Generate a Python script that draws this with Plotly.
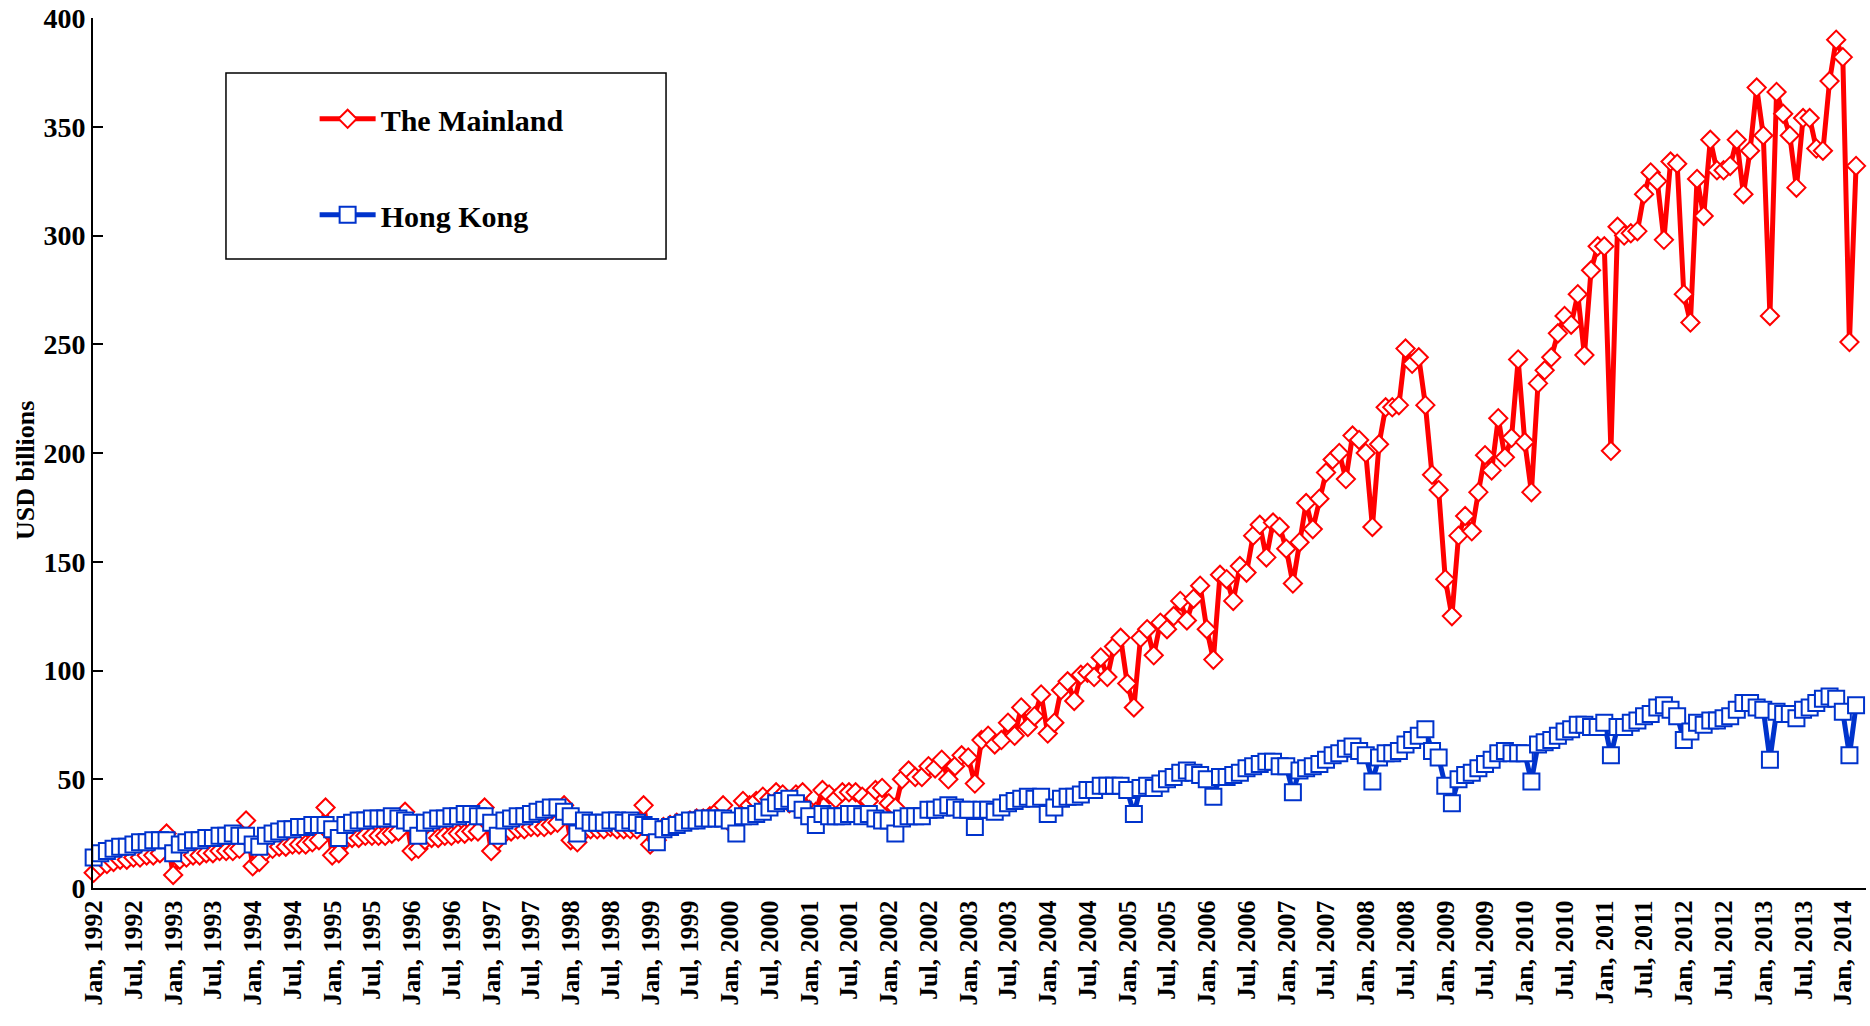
import plotly.graph_objects as go

MONTHS = ["Jan", "Feb", "Mar", "Apr", "May", "Jun", "Jul", "Aug", "Sep", "Oct", "Nov", "Dec"]

# The Mainland, monthly, USD billions
mainland_1992 = [7, 10, 11, 12, 13, 13, 14, 14, 15, 15, 16, 25]
mainland_1993 = [6, 13, 14, 15, 15, 16, 16, 17, 17, 17, 18, 31]
mainland_1994 = [10, 12, 17, 18, 19, 19, 20, 20, 20, 21, 22, 37]
mainland_1995 = [15, 16, 22, 23, 23, 24, 24, 24, 24, 25, 26, 35]
mainland_1996 = [17, 18, 22, 23, 23, 24, 24, 25, 25, 26, 26, 37]
mainland_1997 = [17, 22, 25, 26, 27, 27, 28, 28, 28, 29, 30, 38]
mainland_1998 = [22, 21, 26, 27, 27, 27, 28, 27, 27, 27, 27, 38]
mainland_1999 = [20, 22, 28, 29, 30, 30, 31, 32, 32, 33, 35, 38]
mainland_2000 = [30, 31, 40, 38, 40, 42, 41, 44, 43, 39, 43, 44]
mainland_2001 = [36, 35, 45, 43, 41, 44, 44, 44, 42, 40, 45, 46]
mainland_2002 = [39, 37, 50, 54, 51, 51, 56, 55, 59, 50, 56, 61]
mainland_2003 = [60, 48, 68, 70, 66, 68, 76, 70, 83, 74, 79, 89]
mainland_2004 = [71, 76, 91, 95, 86, 98, 99, 97, 106, 97, 111, 115]
mainland_2005 = [94, 83, 115, 119, 107, 122, 119, 125, 132, 123, 133, 139]
mainland_2006 = [119, 105, 144, 142, 132, 148, 145, 162, 167, 152, 168, 166]
mainland_2007 = [156, 140, 159, 177, 165, 179, 191, 197, 200, 188, 208, 206]
mainland_2008 = [200, 166, 204, 221, 221, 222, 248, 241, 244, 222, 190, 183]
mainland_2009 = [142, 125, 162, 171, 164, 182, 199, 192, 216, 198, 207, 243]
mainland_2010 = [205, 182, 232, 238, 244, 255, 263, 259, 273, 245, 284, 295]
mainland_2011 = [295, 201, 304, 300, 301, 302, 319, 329, 325, 298, 334, 333]
mainland_2012 = [273, 260, 326, 309, 344, 330, 330, 332, 344, 319, 339, 368]
mainland_2013 = [346, 263, 366, 356, 346, 322, 354, 354, 340, 339, 371, 390]
mainland_2014 = [382, 251, 332]

# Hong Kong, monthly, USD billions
hk_1992 = [14, 16, 17, 18, 19, 19, 20, 21, 21, 22, 22, 22]
hk_1993 = [16, 20, 21, 22, 22, 23, 23, 24, 24, 25, 24, 24]
hk_1994 = [20, 19, 24, 25, 26, 27, 27, 28, 28, 29, 29, 29]
hk_1995 = [27, 23, 29, 30, 31, 31, 32, 32, 32, 33, 32, 31]
hk_1996 = [30, 24, 30, 31, 32, 32, 33, 33, 34, 34, 33, 33]
hk_1997 = [30, 24, 31, 32, 33, 33, 34, 35, 36, 37, 37, 35]
hk_1998 = [33, 25, 31, 30, 30, 30, 31, 31, 30, 31, 30, 29]
hk_1999 = [28, 21, 27, 28, 29, 30, 31, 31, 32, 32, 32, 32]
hk_2000 = [31, 25, 33, 33, 34, 35, 37, 39, 40, 41, 39, 36]
hk_2001 = [33, 29, 34, 33, 33, 33, 34, 34, 33, 34, 32, 31]
hk_2002 = [31, 25, 32, 33, 33, 33, 36, 36, 37, 38, 37, 36]
hk_2003 = [36, 28, 36, 36, 35, 37, 39, 40, 41, 42, 41, 42]
hk_2004 = [34, 37, 41, 42, 42, 43, 45, 45, 47, 47, 47, 47]
hk_2005 = [45, 34, 46, 47, 46, 48, 50, 51, 53, 54, 53, 52]
hk_2006 = [50, 42, 51, 51, 52, 53, 55, 56, 57, 58, 58, 56]
hk_2007 = [56, 44, 54, 55, 56, 57, 59, 61, 62, 64, 65, 63]
hk_2008 = [61, 49, 60, 62, 62, 63, 66, 68, 70, 73, 63, 60]
hk_2009 = [47, 39, 50, 52, 53, 55, 57, 59, 62, 63, 62, 62]
hk_2010 = [62, 49, 66, 67, 68, 70, 72, 73, 75, 75, 74, 74]
hk_2011 = [76, 61, 74, 74, 76, 77, 79, 80, 83, 84, 82, 79]
hk_2012 = [68, 72, 76, 75, 77, 77, 78, 79, 82, 85, 85, 83]
hk_2013 = [82, 59, 81, 80, 80, 78, 82, 83, 85, 87, 88, 87]
hk_2014 = [81, 61, 84]

mainland = (mainland_1992 + mainland_1993 + mainland_1994 + mainland_1995 + mainland_1996
            + mainland_1997 + mainland_1998 + mainland_1999 + mainland_2000 + mainland_2001
            + mainland_2002 + mainland_2003 + mainland_2004 + mainland_2005 + mainland_2006
            + mainland_2007 + mainland_2008 + mainland_2009 + mainland_2010 + mainland_2011
            + mainland_2012 + mainland_2013 + mainland_2014)
hongkong = (hk_1992 + hk_1993 + hk_1994 + hk_1995 + hk_1996 + hk_1997 + hk_1998 + hk_1999
            + hk_2000 + hk_2001 + hk_2002 + hk_2003 + hk_2004 + hk_2005 + hk_2006 + hk_2007
            + hk_2008 + hk_2009 + hk_2010 + hk_2011 + hk_2012 + hk_2013 + hk_2014)

n = len(mainland)
labels = [f"{MONTHS[i % 12]}, {1992 + i // 12}" for i in range(n)]
tick_labels = labels[::6]

RED = "#FF0000"
BLUE = "#0033CC"
FONT = "Liberation Serif"

fig = go.Figure()
fig.add_trace(go.Scatter(
    x=labels, y=mainland, name="The Mainland", mode="lines+markers",
    line=dict(color=RED, width=5),
    marker=dict(symbol="diamond", size=14, color="white", line=dict(color=RED, width=2)),
    legendgroup="a", cliponaxis=False,
))
fig.add_trace(go.Scatter(
    x=labels, y=hongkong, name="Hong Kong", mode="lines+markers",
    line=dict(color=BLUE, width=5),
    marker=dict(symbol="square", size=16, color="white", line=dict(color=BLUE, width=2)),
    legendgroup="b", cliponaxis=False,
))

fig.update_layout(
    width=1870, height=1026,
    margin=dict(l=93, r=4, t=18, b=138, autoexpand=False),
    paper_bgcolor="white", plot_bgcolor="white",
    showlegend=True,
    legend=dict(
        x=0.125, y=0.914, xanchor="left", yanchor="top",
        font=dict(family=FONT, size=30, color="black", weight="bold"),
        tracegroupgap=54, itemwidth=56, bgcolor="rgba(0,0,0,0)",
    ),
    shapes=[dict(type="rect", xref="paper", yref="paper",
                 x0=0.075, x1=0.3232, y0=0.723, y1=0.9368,
                 line=dict(color="black", width=1.5), fillcolor="rgba(0,0,0,0)")],
    annotations=[dict(text="USD billions", xref="paper", yref="paper",
                      x=-0.038, y=0.48, xanchor="center", yanchor="middle",
                      textangle=-90, showarrow=False,
                      font=dict(family=FONT, size=26, color="black", weight="bold"))],
)

fig.update_xaxes(
    type="category", range=[-0.1, 267.5], automargin=False,
    tickmode="array", tickvals=tick_labels, ticktext=tick_labels,
    tickangle=-90, tickfont=dict(family=FONT, size=26, color="black", weight="bold"),
    ticklabeloverflow="allow",
    showline=True, linecolor="black", linewidth=2,
    ticks="", showgrid=False, zeroline=False,
)
fig.update_yaxes(
    range=[0, 400], automargin=False,
    tickmode="array", tickvals=list(range(0, 401, 50)),
    tickfont=dict(family=FONT, size=28, color="black", weight="bold"),
    ticklabeloverflow="allow",
    showline=True, linecolor="black", linewidth=2,
    ticks="inside", ticklen=10, tickwidth=2, tickcolor="black",
    showgrid=False, zeroline=False,
)

fig.write_html("out.html", config={"displayModeBar": False},
               post_script="document.body.style.margin='0px';")
